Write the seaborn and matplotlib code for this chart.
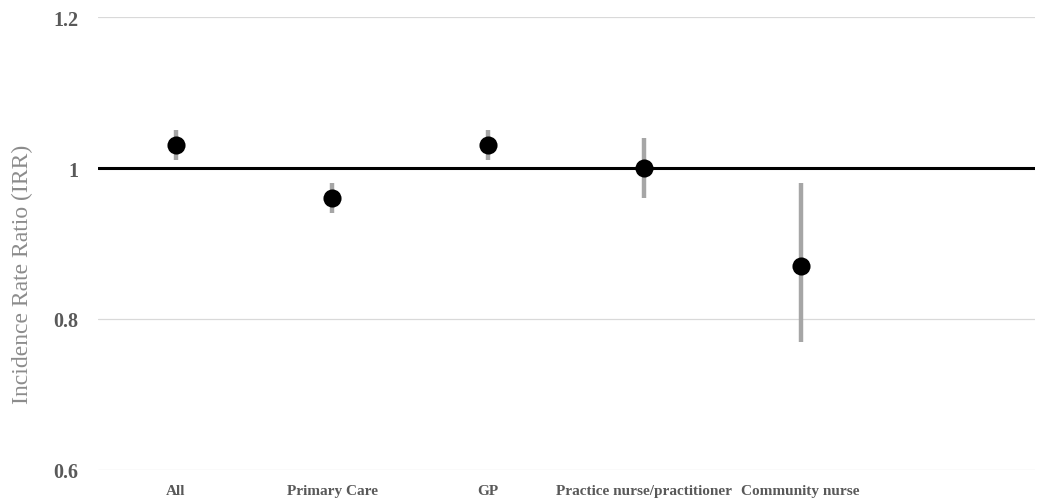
import matplotlib
matplotlib.use("Agg")
import matplotlib.pyplot as plt
import seaborn as sns
import pandas as pd

categories = ["All", "Primary Care", "GP", "Practice nurse/practitioner", "Community nurse", ""]
irr = [1.03, 0.96, 1.03, 1.00, 0.87]
ci_low = [1.01, 0.94, 1.01, 0.96, 0.77]
ci_high = [1.05, 0.98, 1.05, 1.04, 0.98]
y_ticks = [0.6, 0.8, 1.0, 1.2]
y_ticklabels = ["0.6", "0.8", "1", "1.2"]

sns.set_theme(style="white")
plt.rcParams["font.family"] = ["Liberation Serif", "DejaVu Serif"]

df = pd.DataFrame({
    "group": categories[:len(irr)],
    "pos": list(range(len(irr))),
    "irr": irr,
    "lo": ci_low,
    "hi": ci_high,
})

fig = plt.figure(figsize=(10.4, 5.02), dpi=100)
ax = fig.add_axes([0.094, 0.062, 0.901, 0.902])

ax.set_ylim(0.6, 1.2)
ax.set_xlim(-0.5, len(categories) - 0.5)
ax.set_yticks(y_ticks)
ax.yaxis.grid(True, color="#d9d9d9", linewidth=0.9)
ax.set_axisbelow(True)

ax.axhline(1.0, color="black", linewidth=2.2, zorder=2)
ax.vlines(df["pos"], df["lo"], df["hi"], color="#a6a6a6", linewidth=3.2, zorder=3)
sns.scatterplot(data=df, x="pos", y="irr", ax=ax, color="black", s=170,
                edgecolor="black", linewidth=0, zorder=4, legend=False)

ax.set_xticks(range(len(categories)))
ax.set_xticklabels(categories, fontsize=11, fontweight="bold", color="#595959")
ax.set_yticklabels(y_ticklabels, fontsize=14.5, fontweight="bold", color="#595959")
ax.tick_params(axis="x", length=0, pad=10)
ax.tick_params(axis="y", length=0, pad=14)
ax.set_xlabel("")
ax.set_ylabel("Incidence Rate Ratio (IRR)", fontsize=17, color="#8c8c8c")
ax.yaxis.set_label_coords(-0.069, 0.433)
for s in ax.spines.values():
    s.set_visible(False)

fig.savefig("out.png", dpi=100, facecolor="white")
